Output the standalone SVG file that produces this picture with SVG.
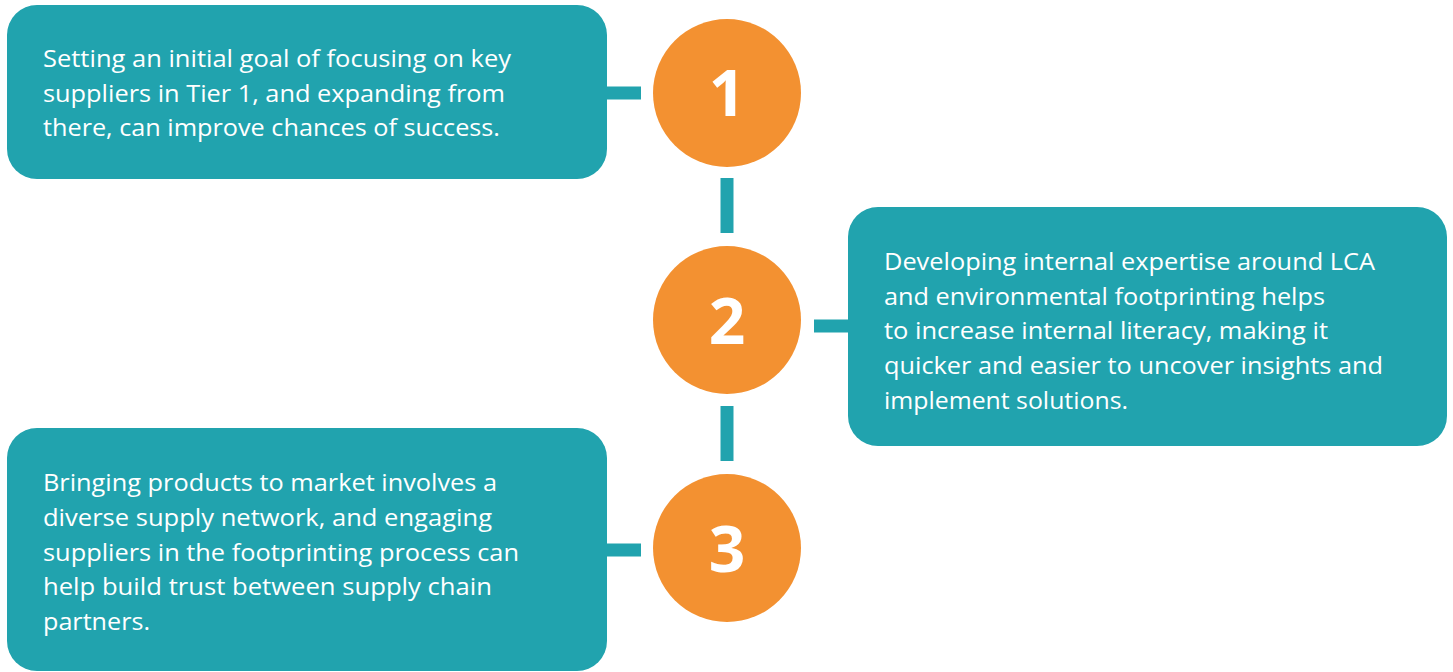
<svg xmlns="http://www.w3.org/2000/svg" width="1453" height="672" viewBox="0 0 1453 672">
<style>
.box{fill:#21a3ae}
.circ{fill:#f39131}
.t{font-family:"Open Sans","Liberation Sans",sans-serif;font-size:24px;fill:#ffffff}
.n{font-family:"Open Sans","Liberation Sans",sans-serif;font-size:64px;font-weight:bold;fill:#ffffff;text-anchor:middle}
.c{stroke:#21a3ae;stroke-width:13;fill:none}
</style>
<rect width="1453" height="672" fill="#ffffff"/>
<g id="connectors">
<line class="c" x1="607" y1="93" x2="641" y2="93"/>
<line class="c" x1="727" y1="178" x2="727" y2="233"/>
<line class="c" x1="814" y1="326" x2="849" y2="326"/>
<line class="c" x1="727" y1="406" x2="727" y2="461"/>
<line class="c" x1="607" y1="550" x2="641" y2="550"/>
</g>
<g id="box1">
<rect class="box" x="7" y="5" width="600" height="174" rx="30"/>
<text class="t"><tspan x="43" y="67" textLength="468" lengthAdjust="spacingAndGlyphs">Setting an initial goal of focusing on key</tspan><tspan x="43" y="102" textLength="462" lengthAdjust="spacingAndGlyphs">suppliers in Tier 1, and expanding from</tspan><tspan x="43" y="136" textLength="457" lengthAdjust="spacingAndGlyphs">there, can improve chances of success.</tspan></text>
</g>
<g id="circle1">
<circle class="circ" cx="727" cy="93" r="74"/>
<text class="n" x="727" y="116">1</text>
</g>
<g id="circle2">
<circle class="circ" cx="727" cy="320" r="74"/>
<text class="n" x="727" y="344">2</text>
</g>
<g id="box2">
<rect class="box" x="848" y="207" width="599" height="239" rx="30"/>
<text class="t"><tspan x="884" y="270" textLength="491" lengthAdjust="spacingAndGlyphs">Developing internal expertise around LCA</tspan><tspan x="884" y="305" textLength="441" lengthAdjust="spacingAndGlyphs">and environmental footprinting helps</tspan><tspan x="884" y="339" textLength="444" lengthAdjust="spacingAndGlyphs">to increase internal literacy, making it</tspan><tspan x="884" y="374" textLength="499" lengthAdjust="spacingAndGlyphs">quicker and easier to uncover insights and</tspan><tspan x="884" y="409" textLength="244" lengthAdjust="spacingAndGlyphs">implement solutions.</tspan></text>
</g>
<g id="circle3">
<circle class="circ" cx="727" cy="548" r="74"/>
<text class="n" x="727" y="572">3</text>
</g>
<g id="box3">
<rect class="box" x="7" y="428" width="600" height="243" rx="30"/>
<text class="t"><tspan x="43" y="491" textLength="454" lengthAdjust="spacingAndGlyphs">Bringing products to market involves a</tspan><tspan x="43" y="526" textLength="449" lengthAdjust="spacingAndGlyphs">diverse supply network, and engaging</tspan><tspan x="43" y="561" textLength="476" lengthAdjust="spacingAndGlyphs">suppliers in the footprinting process can</tspan><tspan x="43" y="595" textLength="449" lengthAdjust="spacingAndGlyphs">help build trust between supply chain</tspan><tspan x="43" y="630" textLength="107" lengthAdjust="spacingAndGlyphs">partners.</tspan></text>
</g>
</svg>
